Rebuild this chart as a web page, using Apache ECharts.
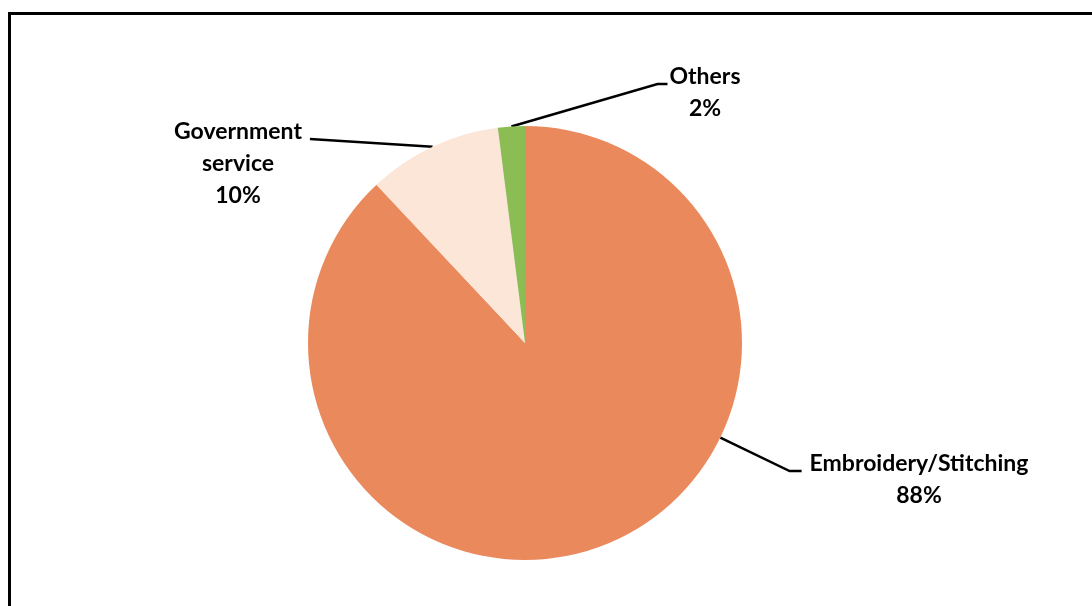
<!DOCTYPE html>
<html>
<head>
<meta charset="utf-8">
<title>Occupation of respondents</title>
<script src="https://cdn.jsdelivr.net/npm/echarts@6/dist/echarts.min.js"></script>
<style>
  html, body { margin: 0; padding: 0; background: #ffffff; }
  #chart { width: 1092px; height: 606px; }
</style>
</head>
<body>
<div id="chart"></div>
<script>
// Occupation shares (percent), clockwise from 12 o'clock
const categories = ['Embroidery/Stitching', 'Government service', 'Others'];
const shares = [88, 10, 2];
// Text shown in each label, before the percentage line
const labelNames = ['Embroidery/Stitching', 'Government\nservice', 'Others'];

const sliceColors = ['#EA8A5C', '#FBE6D8', '#8CBD55'];

// Pie geometry
const PIE_CENTER = [525, 343];
const PIE_RADIUS = 217;
const LINE_H = 32;

// Label placement: block centre x, block top y, which side the leader enters,
// gap between leader end and text, length of the short horizontal leg,
// and where the leader meets the slice ('mid' = mid-angle, 'toward' = toward the label)
const labelSpots = [
  { x: 919, y: 448, side: 'left',  gap: 8,  leg: 12, anchor: 'toward' },
  { x: 238, y: 116, side: 'right', gap: 8,  leg: 0,  anchor: 'mid' },
  { x: 705, y: 61,  side: 'left',  gap: 2,  leg: 10, anchor: 'mid' }
];

const chart = echarts.init(document.getElementById('chart'), null, { renderer: 'canvas' });

chart.setOption({
  backgroundColor: '#ffffff',
  animation: false,
  graphic: [{
    type: 'rect',
    shape: { x: 9.5, y: 13.5, width: 1200, height: 700 },
    style: { fill: 'none', stroke: '#000000', lineWidth: 3 },
    silent: true,
    z: 10
  }],
  series: [{
    type: 'pie',
    center: PIE_CENTER,
    radius: PIE_RADIUS,
    startAngle: 90,
    clockwise: true,
    avoidLabelOverlap: false,
    itemStyle: { borderWidth: 0 },
    data: categories.map((name, i) => ({
      name: name,
      value: shares[i],
      itemStyle: { color: sliceColors[i] }
    })),
    label: {
      show: true,
      position: 'outside',
      formatter: p => labelNames[p.dataIndex] + '\n' + p.value + '%',
      fontFamily: 'Lato, "Open Sans", sans-serif',
      fontWeight: 'bold',
      fontSize: 23,
      lineHeight: LINE_H,
      color: '#000000',
      align: 'center'
    },
    labelLine: {
      show: true,
      length: 10,
      length2: 10,
      lineStyle: { color: '#000000', width: 2.5 }
    },
    labelLayout: function (params) {
      const spot = labelSpots[params.dataIndex];
      const w = params.labelRect.width;
      const yLine = spot.y + LINE_H * 0.72;
      const endX = spot.side === 'left' ? spot.x - w / 2 - spot.gap : spot.x + w / 2 + spot.gap;
      const elbowX = spot.side === 'left' ? endX - spot.leg : endX + spot.leg;
      let anchor;
      if (spot.anchor === 'mid' && params.labelLinePoints) {
        anchor = params.labelLinePoints[0];
      } else {
        const dx = elbowX - PIE_CENTER[0];
        const dy = yLine - PIE_CENTER[1];
        const d = Math.sqrt(dx * dx + dy * dy);
        anchor = [PIE_CENTER[0] + PIE_RADIUS * dx / d, PIE_CENTER[1] + PIE_RADIUS * dy / d];
      }
      return {
        x: spot.x,
        y: spot.y,
        align: 'center',
        verticalAlign: 'top',
        labelLinePoints: [anchor, [elbowX, yLine], [endX, yLine]]
      };
    }
  }]
});
</script>
</body>
</html>
